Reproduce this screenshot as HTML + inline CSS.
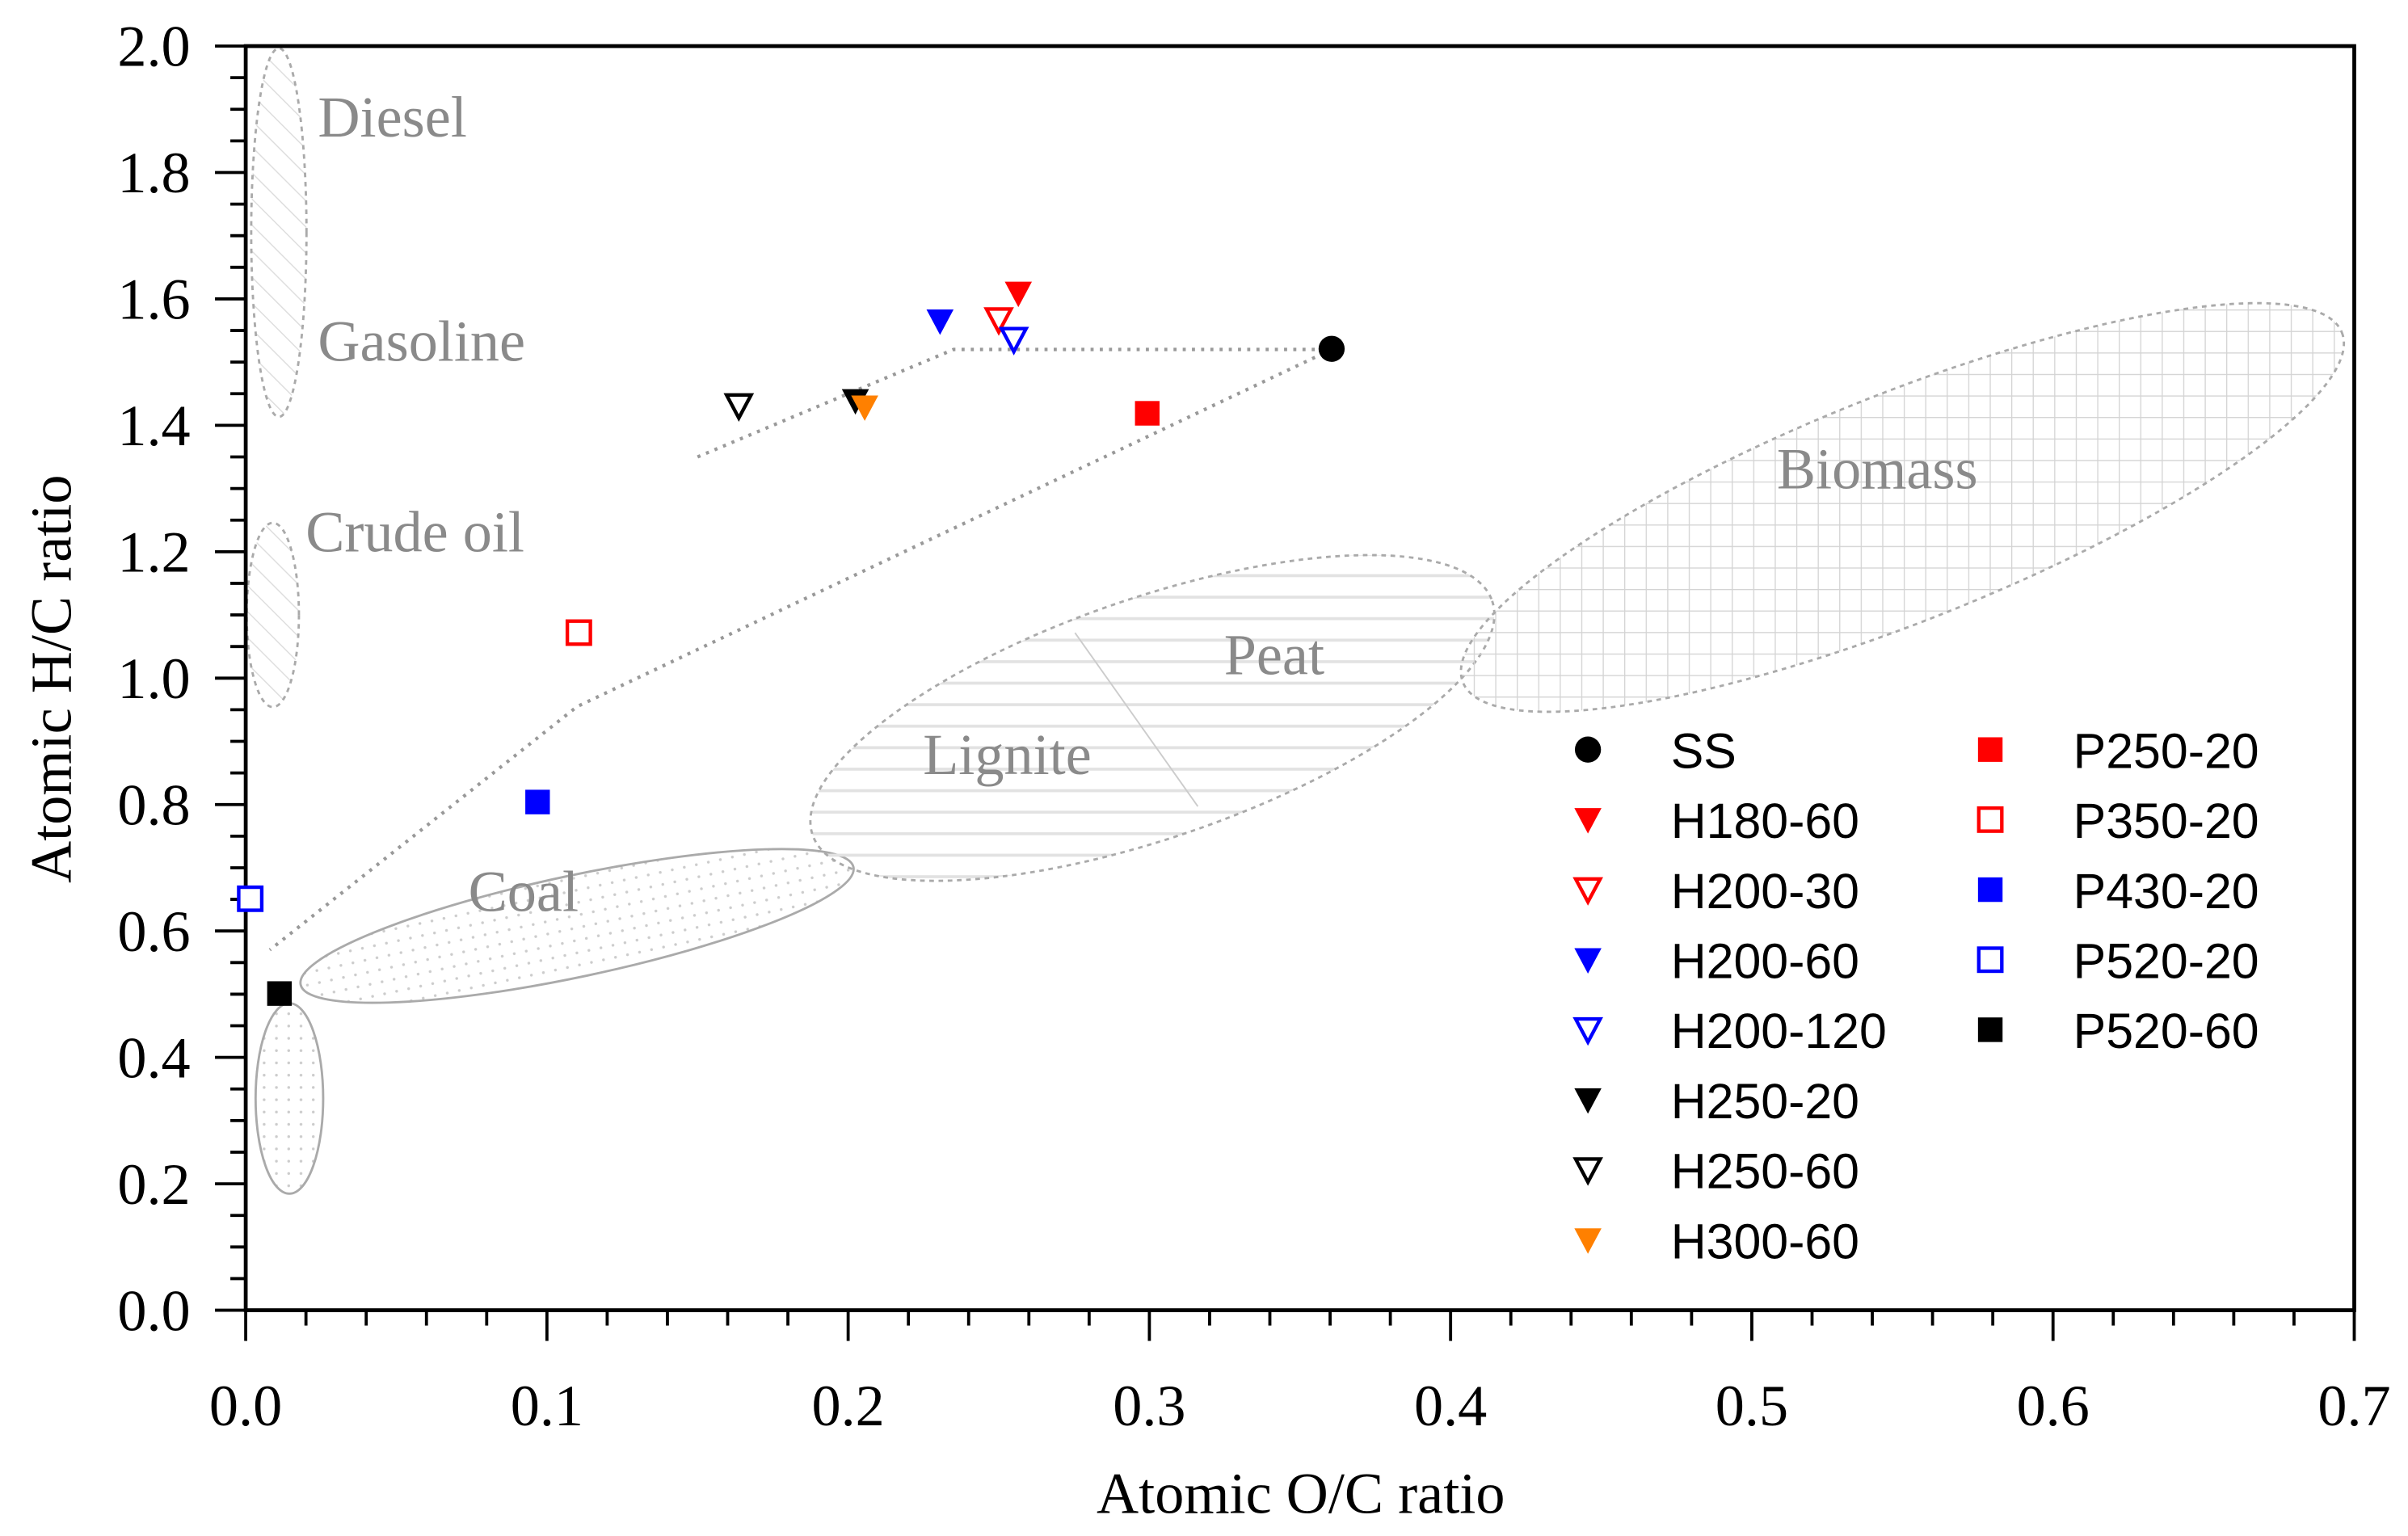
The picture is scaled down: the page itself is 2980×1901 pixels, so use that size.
<!DOCTYPE html>
<html><head><meta charset="utf-8">
<style>
html,body{margin:0;padding:0;background:#fff;}
svg{display:block;}
.tk{font-family:"Liberation Serif",serif;font-size:38px;fill:#000;}
.lg{font-family:"Liberation Sans",sans-serif;font-size:32px;fill:#000;}
.rg{font-family:"Liberation Serif",serif;font-size:38px;fill:#8a8a8a;}
.ax{font-family:"Liberation Serif",serif;font-size:38px;fill:#000;}
</style></head>
<body>
<svg id="chart" width="2980" height="1901" viewBox="0 0 1568 1000" preserveAspectRatio="none" xmlns="http://www.w3.org/2000/svg">
<defs>
<pattern id="pDiag" width="12" height="12" patternUnits="userSpaceOnUse" patternTransform="rotate(-45)"><line x1="0" y1="0" x2="0" y2="12" stroke="#ddd" stroke-width="1.5"/></pattern>
<pattern id="pDots" width="8" height="8" patternUnits="userSpaceOnUse"><circle cx="4" cy="4" r="0.9" fill="#ccc"/></pattern>
<pattern id="pHoriz" width="10" height="14" patternUnits="userSpaceOnUse" patternTransform="rotate(19)"><line x1="0" y1="7" x2="10" y2="7" stroke="#e2e2e2" stroke-width="2"/></pattern>
<pattern id="pGrid" width="14" height="14" patternUnits="userSpaceOnUse" patternTransform="rotate(21.7)"><path d="M0 0H14M0 0V14" stroke="#d4d4d4" stroke-width="1.4" fill="none"/></pattern>
</defs>
<g id="regions"></g>
<g id="axes"></g>
<g id="trends"></g>
<g id="points"></g>
<g id="legend"></g>
</svg>
<script>
const xTicks=[0.0,0.1,0.2,0.3,0.4,0.5,0.6,0.7];
const yTicks=[0.0,0.2,0.4,0.6,0.8,1.0,1.2,1.4,1.6,1.8,2.0];
const seriesNames=["SS","H180-60","H200-30","H200-60","H200-120","H250-20","H250-60","H300-60","P250-20","P350-20","P430-20","P520-20","P520-60"];
const oc=[0.3605,0.2565,0.250,0.2305,0.255,0.2024,0.1637,0.2055,0.2993,0.1106,0.0969,0.0015,0.0112];
const hc=[1.521,1.609,1.567,1.565,1.536,1.439,1.431,1.429,1.419,1.072,0.804,0.651,0.501];
const shapes=["circle","tri","tri","tri","tri","tri","tri","tri","sq","sq","sq","sq","sq"];
const colors=["#000","#f00","#f00","#00f","#00f","#000","#000","#ff8000","#f00","#f00","#00f","#00f","#000"];
const filled=[1,1,0,1,0,1,0,1,1,0,1,0,1];
const trend1X=[0.15,0.235,0.3605], trend1Y=[1.35,1.52,1.52];
const trend2X=[0.3605,0.11,0.008], trend2Y=[1.52,0.955,0.57];

const X0=160,X1=1533,Y0=853,Y1=30;
const sx=v=>X0+(v-0)/(0.7)*(X1-X0);
const sy=v=>Y0-(v-0)/(2.0)*(Y0-Y1);
const NS="http://www.w3.org/2000/svg";
function mk(tag,attrs,parent){const e=document.createElementNS(NS,tag);for(const k in attrs)e.setAttribute(k,attrs[k]);parent.appendChild(e);return e;}

// regions
const R=document.getElementById('regions');
const regs=[
 {n:"diesel-gasoline-region",cx:0.011,cy:1.705,rx:18,ry:120,a:0,f:"url(#pDiag)",d:"3,3"},
 {n:"crude-oil-region",cx:0.009,cy:1.10,rx:17,ry:60,a:0,f:"url(#pDiag)",d:"3,3"},
 {n:"anthracite-region",cx:0.0145,cy:0.335,rx:22,ry:62,a:0,f:"url(#pDots)",d:""},
 {n:"coal-region",cx:0.11,cy:0.608,rx:184,ry:33,a:-12,f:"url(#pDots)",d:""},
 {n:"lignite-peat-region",cx:0.301,cy:0.937,rx:234,ry:78,a:-19,f:"url(#pHoriz)",d:"3,3"},
 {n:"biomass-region",cx:0.55,cy:1.27,rx:308,ry:74,a:-21.7,f:"url(#pGrid)",d:"3,3"}
];
regs.forEach(r=>{
 const e=mk('ellipse',{cx:sx(r.cx),cy:sy(r.cy),rx:r.rx,ry:r.ry,fill:r.f,stroke:"#aaa","stroke-width":1.5,"stroke-dasharray":r.d,transform:`rotate(${r.a} ${sx(r.cx)} ${sy(r.cy)})`},R);
 
 
});
mk('line',{x1:700,y1:412,x2:780,y2:525,stroke:"#ccc","stroke-width":1},R);
const labels=[["Diesel",207,89],["Gasoline",207,235],["Crude oil",199,359],["Coal",305,593],["Lignite",601,504],["Peat",797,439],["Biomass",1157,318]];
labels.forEach(l=>{const t=mk('text',{x:l[1],y:l[2],class:"rg"},R);t.textContent=l[0];
 
 });

// axes
const A=document.getElementById('axes');
const frame=mk('rect',{x:X0,y:Y1,width:X1-X0,height:Y0-Y1,fill:"none",stroke:"#000","stroke-width":2.5},A);


for(let i=0;i<=35;i++){const v=i*0.02;const x=sx(v);const maj=i%5===0;
 mk('line',{x1:x,y1:Y0,x2:x,y2:Y0+(maj?20:10),stroke:"#000","stroke-width":2},A);}
for(let i=0;i<=40;i++){const v=i*0.05;const y=sy(v);const maj=i%4===0;
 mk('line',{x1:X0,y1:y,x2:X0-(maj?20:10),y2:y,stroke:"#000","stroke-width":2},A);}
xTicks.forEach(v=>{const t=mk('text',{x:sx(v),y:928,"text-anchor":"middle",class:"tk"},A);t.textContent=v.toFixed(1);
 
 });
yTicks.forEach(v=>{const t=mk('text',{x:124,y:sy(v)+13,"text-anchor":"end",class:"tk"},A);t.textContent=v.toFixed(1);
 
 });
const xt=mk('text',{x:847,y:985,"text-anchor":"middle",class:"ax"},A);xt.textContent="Atomic O/C ratio";


const yt=mk('text',{x:0,y:0,"text-anchor":"middle",class:"ax",transform:"translate(46,442) rotate(-90)"},A);yt.textContent="Atomic H/C ratio";



// trends
const T=document.getElementById('trends');
[[trend1X,trend1Y],[trend2X,trend2Y]].forEach((tr,k)=>{
 const p=mk('polyline',{points:tr[0].map((x,i)=>sx(x)+","+sy(tr[1][i])).join(" "),fill:"none",stroke:"#999","stroke-width":2.2,"stroke-dasharray":"2,4"},T);
 
 
});

function marker(parent,shape,x,y,col,fill){
 const f=fill?col:"#fff";
 if(shape==="circle") return mk('circle',{cx:x,cy:y,r:8.5,fill:col},parent);
 if(shape==="tri") return mk('path',{d:`M${x-8},${y-7}L${x+8},${y-7}L${x},${y+8}Z`,fill:f,stroke:col,"stroke-width":fill?1:2.3,"stroke-linejoin":"miter"},parent);
 return mk('rect',{x:x-7.5,y:y-7.5,width:15,height:15,fill:f,stroke:col,"stroke-width":fill?1:2.3},parent);
}
// points
const P=document.getElementById('points');
seriesNames.forEach((n,i)=>{
 const m=marker(P,shapes[i],sx(oc[i]),sy(hc[i]),colors[i],filled[i]);
 
 
});
// legend
const L=document.getElementById('legend');
seriesNames.forEach((n,i)=>{
 const col=i<8?0:1,row=i<8?i:i-8;
 const mx=col?1296:1034, tx=col?1350:1088, y=488+row*45.6;
 const g=mk('g',{},L);
 
 
 marker(g,shapes[i],mx,y,colors[i],filled[i]);
 const t=mk('text',{x:tx,y:y+12,class:"lg"},g);t.textContent=n;
});
</script>
</body></html>
